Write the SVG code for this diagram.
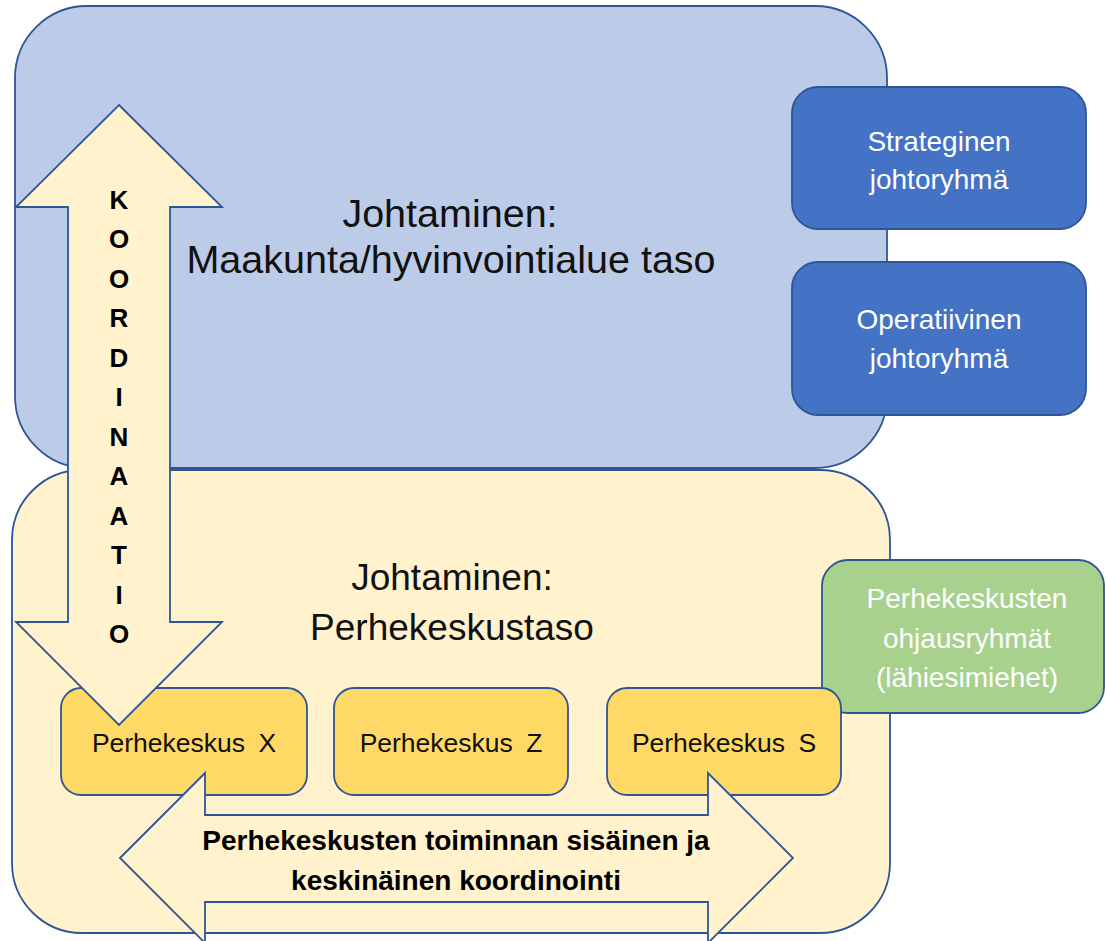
<svg xmlns="http://www.w3.org/2000/svg" width="1106" height="941" viewBox="0 0 1106 941">
<style>
.ln{stroke:#2F5597;stroke-width:1.8}
.big{font-family:"Liberation Sans",Arial,sans-serif;font-size:39.5px;fill:#111;text-anchor:middle}
.mid{font-family:"Liberation Sans",Arial,sans-serif;font-size:37px;fill:#111;text-anchor:middle}
.wt{font-family:"Liberation Sans",Arial,sans-serif;font-size:28px;fill:#fff;text-anchor:middle}
.pk{font-family:"Liberation Sans",Arial,sans-serif;font-size:26.5px;fill:#111;text-anchor:middle}
.bd{font-family:"Liberation Sans",Arial,sans-serif;font-weight:bold;font-size:26px;fill:#000;text-anchor:middle}
.bd2{font-family:"Liberation Sans",Arial,sans-serif;font-weight:bold;font-size:28px;fill:#000;text-anchor:middle}
</style>
<rect width="1106" height="941" fill="#fff"/>
<g id="maakunta">
<rect class="ln" x="15" y="6" width="872" height="462" rx="72" fill="#BCCBE8"/>
<text class="big" x="450" y="227">Johtaminen:</text>
<text class="big" x="451" y="273">Maakunta/hyvinvointialue taso</text>
</g>
<g id="perhekeskustaso">
<rect class="ln" x="12" y="470" width="878" height="463" rx="70" fill="#FFF2CC"/>
<text class="mid" x="452" y="590">Johtaminen:</text>
<text class="mid" x="452" y="640">Perhekeskustaso</text>
</g>
<g id="strateginen">
<rect class="ln" x="792" y="87" width="294" height="142" rx="26" fill="#4472C4"/>
<text class="wt" x="939" y="151">Strateginen</text>
<text class="wt" x="939" y="189">johtoryhmä</text>
</g>
<g id="operatiivinen">
<rect class="ln" x="792" y="262" width="294" height="153" rx="26" fill="#4472C4"/>
<text class="wt" x="939" y="329">Operatiivinen</text>
<text class="wt" x="939" y="368">johtoryhmä</text>
</g>
<g id="ohjausryhmat">
<rect class="ln" x="822" y="560" width="282" height="153" rx="26" fill="#A9D18E"/>
<text class="wt" x="967" y="608">Perhekeskusten</text>
<text class="wt" x="967" y="648">ohjausryhmät</text>
<text class="wt" x="967" y="687">(lähiesimiehet)</text>
</g>
<g id="perhekeskus-x">
<rect class="ln" x="61" y="688" width="246" height="107" rx="20" fill="#FFD966"/>
<text class="pk" x="184" y="752">Perhekeskus <tspan dx="6">X</tspan></text>
</g>
<g id="perhekeskus-z">
<rect class="ln" x="334" y="688" width="234" height="107" rx="20" fill="#FFD966"/>
<text class="pk" x="451" y="752">Perhekeskus <tspan dx="6">Z</tspan></text>
</g>
<g id="perhekeskus-s">
<rect class="ln" x="607" y="688" width="234" height="107" rx="20" fill="#FFD966"/>
<text class="pk" x="724" y="752">Perhekeskus <tspan dx="6">S</tspan></text>
</g>
<g id="connectors">
<path class="ln" fill="#FFF2CC" d="M119,105 L222,207 L170,207 L170,622 L222,622 L119,725 L16,622 L68,622 L68,207 L16,207 Z"/>
<path class="ln" fill="#FFF2CC" d="M120,858 L205,773 L205,815 L708,815 L708,773 L793,858 L708,943 L708,902 L205,902 L205,943 Z"/>
<g class="bd">
<text x="119" y="209">K</text>
<text x="119" y="248">O</text>
<text x="119" y="288">O</text>
<text x="119" y="327">R</text>
<text x="119" y="367">D</text>
<text x="119" y="406">I</text>
<text x="119" y="446">N</text>
<text x="119" y="485">A</text>
<text x="119" y="525">A</text>
<text x="119" y="564">T</text>
<text x="119" y="604">I</text>
<text x="119" y="643">O</text>
</g>
<text class="bd2" x="456" y="850">Perhekeskusten toiminnan sisäinen ja</text>
<text class="bd2" x="456" y="890">keskinäinen koordinointi</text>
</g>
</svg>
